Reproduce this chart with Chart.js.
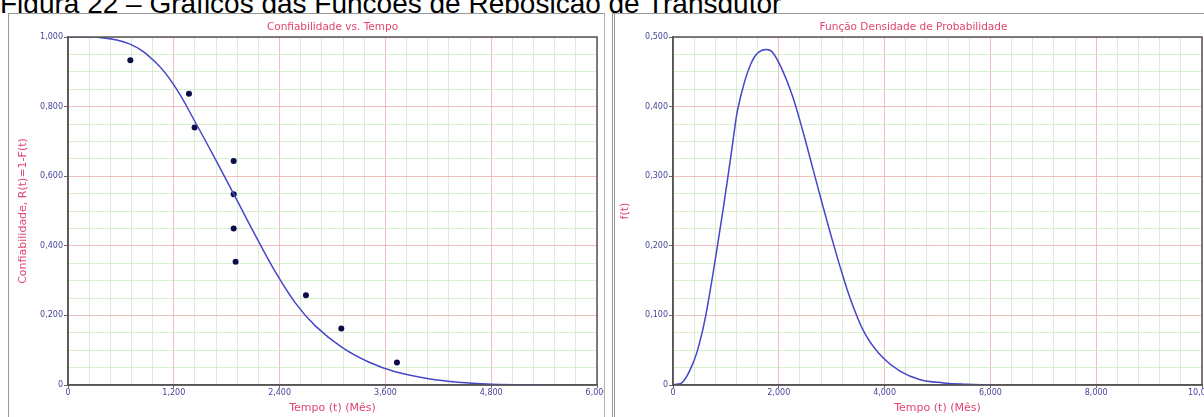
<!DOCTYPE html>
<html>
<head>
<meta charset="utf-8">
<script src="https://cdn.jsdelivr.net/npm/chart.js@4/dist/chart.umd.min.js"></script>
<style>
  html, body { margin:0; padding:0; background:#fff; width:1204px; height:417px; overflow:hidden; }
  #fig { position:absolute; left:0; top:-10px; font-family:"Liberation Sans", Arial, sans-serif; font-size:28px; line-height:28px; color:#000; white-space:nowrap; }
  .panel { position:absolute; top:13px; height:410px; background:#fff; }
  #p1 { left:8px; width:595px; border-left:1px solid #9a9a9a; border-top:1px solid #9a9a9a; border-right:1px solid #b0b0b0; }
  #p2 { left:612px; width:592px; border-left:3px double #9a9a9a; border-top:1px solid #9a9a9a; }
  canvas { position:absolute; left:0; top:0; }
</style>
</head>
<body>
<div id="fig">Figura 22 – Gráficos das Funções de Reposição de Transdutor</div>
<div class="panel" id="p1"><canvas id="c1" width="595" height="404"></canvas></div>
<div class="panel" id="p2"><canvas id="c2" width="592" height="404"></canvas></div>
<script>
// ---- data ----
const relTitle = "Confiabilidade vs. Tempo";
const pdfTitle = "Função Densidade de Probabilidade";
const xTitle = "Tempo (t) (Mês)";
const relYTitle = "Confiabilidade, R(t)=1-F(t)";
const pdfYTitle = "f(t)";

// observed points (time, reliability)
const obsTime = [707, 1372, 1436, 1879, 1879, 1879, 1901, 2699, 3100, 3731];
const obsRel  = [0.933, 0.837, 0.740, 0.644, 0.548, 0.450, 0.354, 0.258, 0.162, 0.065];

// fitted reliability curve (time, R)
const relCurveTime = [0, 300, 690, 990, 1217, 1444, 1671, 1898, 2125, 2352, 2578, 2805, 3108, 3410, 3712, 4090, 4468, 4800, 5400];
const relCurveVal  = [1.000, 1.000, 0.981, 0.928, 0.856, 0.755, 0.649, 0.540, 0.430, 0.325, 0.236, 0.170, 0.108, 0.066, 0.038, 0.018, 0.007, 0.002, 0.000];

// probability density curve (time, f)
const pdfTime = [0, 180, 370, 490, 620, 840, 1040, 1160, 1220, 1350, 1475, 1600, 1760, 1880, 2070, 2260, 2450, 2640, 2830, 3020, 3210, 3400, 3650, 3970, 4290, 4660, 5110, 5550, 6000];
const pdfVal  = [0.000, 0.004, 0.030, 0.057, 0.100, 0.200, 0.300, 0.365, 0.395, 0.435, 0.462, 0.477, 0.482, 0.478, 0.452, 0.415, 0.366, 0.312, 0.258, 0.206, 0.157, 0.114, 0.071, 0.039, 0.020, 0.008, 0.003, 0.001, 0.000];

// axes
const relXMax = 6000, relXMajor = 1200, relXMinor = 240;
const relYMax = 1, relYMajor = 0.2, relYMinor = 0.05;
const pdfXMax = 10000, pdfXMajor = 2000, pdfXMinor = 400;
const pdfYMax = 0.5, pdfYMajor = 0.1, pdfYMinor = 0.025;

// ---- styling ----
const RED = '#e0456f';
const TICKC = '#45459a';
const LINEC = '#4646c8';
const DOTC = '#0c0c48';
const MAJOR = 'rgba(238,170,170,0.75)';
const MINOR = 'rgba(200,232,190,0.7)';
const FONT = '"DejaVu Sans", Verdana, sans-serif';

function isMajor(v, step) { const r = v / step; return Math.abs(r - Math.round(r)) < 1e-6; }
function fmtX(v) { return Math.round(v).toLocaleString('en-US'); }
function fmtY(v) { if (Math.abs(v) < 1e-9) return '0'; return v.toFixed(3).replace('.', ','); }

const frame = {
  id: 'frame',
  afterDraw(chart, args, opts) {
    const {ctx, chartArea: a} = chart;
    ctx.save();
    ctx.strokeStyle = '#555';
    ctx.lineWidth = 1.5;
    ctx.strokeRect(a.left, a.top, a.right - a.left, a.bottom - a.top);
    ctx.fillStyle = RED;
    ctx.font = '10.5px ' + FONT;
    ctx.textAlign = 'center';
    ctx.textBaseline = 'middle';
    ctx.fillText(opts.text, (a.left + a.right) / 2 + (opts.dx || 0), 13);
    ctx.restore();
  }
};

function makeChart(id, cfg) {
  const xs = {
    type: 'linear', min: 0, max: cfg.xMax,
    border: { display: true, color: '#555', width: 1.5 },
    grid: {
      color: c => isMajor(c.tick.value, cfg.xMajor) ? MAJOR : MINOR,
      tickColor: c => isMajor(c.tick.value, cfg.xMajor) ? '#666' : 'rgba(0,0,0,0)',
      tickLength: 3, lineWidth: 1
    },
    ticks: {
      stepSize: cfg.xMinor, autoSkip: false, maxRotation: 0, minRotation: 0,
      maxTicksLimit: 200, padding: 0,
      color: TICKC, font: { family: FONT, size: 8 },
      callback: v => isMajor(v, cfg.xMajor) ? fmtX(v) : ''
    },
    title: { display: true, text: xTitle, color: RED, font: { family: FONT, size: 11 }, padding: { top: 0, bottom: 3 } },
    afterFit: s => { s.height = 33; s.paddingLeft = 0; s.paddingRight = 0; }
  };
  const ys = {
    type: 'linear', min: 0, max: cfg.yMax,
    border: { display: true, color: '#555', width: 1.5 },
    grid: {
      color: c => isMajor(c.tick.value, cfg.yMajor) ? MAJOR : MINOR,
      tickColor: c => isMajor(c.tick.value, cfg.yMajor) ? '#666' : 'rgba(0,0,0,0)',
      tickLength: 4, lineWidth: 1
    },
    ticks: {
      stepSize: cfg.yMinor, autoSkip: false, maxTicksLimit: 200, padding: 1,
      color: TICKC, font: { family: FONT, size: 8 },
      callback: v => isMajor(v, cfg.yMajor) ? fmtY(v) : ''
    },
    title: { display: true, text: cfg.yTitle, color: RED, font: { family: FONT, size: 11 }, padding: { top: cfg.yTitlePad, bottom: 0 } },
    afterFit: s => { s.width = cfg.yWidth; s.paddingTop = 0; s.paddingBottom = 0; }
  };
  return new Chart(document.getElementById(id), {
    type: 'scatter',
    data: { datasets: cfg.datasets },
    options: {
      responsive: false, animation: false, devicePixelRatio: 1,
      layout: { padding: { left: 0, top: 23, right: cfg.rightPad, bottom: 0 } },
      plugins: { legend: { display: false }, tooltip: { enabled: false }, frame: { text: cfg.title, dx: cfg.titleDx } },
      scales: { x: xs, y: ys }
    },
    plugins: [frame]
  });
}

makeChart('c1', {
  title: relTitle, titleDx: 0, yTitle: relYTitle, yTitlePad: 8, yWidth: 59, rightPad: 7,
  xMax: relXMax, xMajor: relXMajor, xMinor: relXMinor,
  yMax: relYMax, yMajor: relYMajor, yMinor: relYMinor,
  datasets: [
    { data: relCurveTime.map((t, i) => ({ x: t, y: relCurveVal[i] })), showLine: true, borderColor: LINEC, borderWidth: 1.5,
      pointRadius: 0, tension: 0.4, fill: false },
    { data: obsTime.map((t, i) => ({ x: t, y: obsRel[i] })), showLine: false, pointRadius: 3, pointBackgroundColor: DOTC, pointBorderColor: DOTC, pointBorderWidth: 0 }
  ]
});

makeChart('c2', {
  title: pdfTitle, titleDx: -24, yTitle: pdfYTitle, yTitlePad: 4, yWidth: 58, rightPad: 5,
  xMax: pdfXMax, xMajor: pdfXMajor, xMinor: pdfXMinor,
  yMax: pdfYMax, yMajor: pdfYMajor, yMinor: pdfYMinor,
  datasets: [
    { data: pdfTime.map((t, i) => ({ x: t, y: pdfVal[i] })), showLine: true, borderColor: LINEC, borderWidth: 1.5,
      pointRadius: 0, tension: 0.4, fill: false }
  ]
});
</script>
</body>
</html>
